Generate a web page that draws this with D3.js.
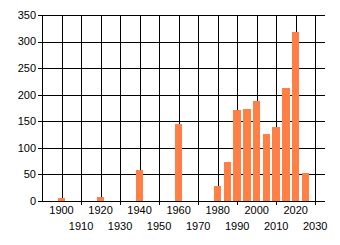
<!DOCTYPE html>
<html>
<head>
<meta charset="utf-8">
<script src="https://cdn.jsdelivr.net/npm/d3@7"></script>
<style>
  body { margin: 0; background: #fff; }
  text { font-family: "Liberation Sans", Arial, sans-serif; font-size: 11px; fill: #000; }
</style>
</head>
<body>
<div id="chart"></div>
<script>
// data
const years = [1900, 1920, 1940, 1960, 1980, 1985, 1990, 1995, 2000, 2005, 2010, 2015, 2020, 2025];
const counts = [5, 7, 58, 144, 28, 73, 171, 173, 188, 126, 139, 212, 318, 53];
const yTicks = [0, 50, 100, 150, 200, 250, 300, 350];
const xTicks = [1900, 1910, 1920, 1930, 1940, 1950, 1960, 1970, 1980, 1990, 2000, 2010, 2020, 2030];

const width = 340, height = 245;
const plotLeft = 42, plotRight = 325, plotTop = 15, plotBottom = 201;

const svg = d3.select('#chart')
  .append('svg')
  .attr('width', width)
  .attr('height', height);

const x = d3.scaleLinear().domain([1890, 2035]).range([plotLeft, plotRight]);
const y = d3.scaleLinear().domain([0, 350]).range([plotBottom, plotTop]);

const grid = svg.append('g').attr('shape-rendering', 'crispEdges');

// horizontal grid
grid.selectAll('.hline')
  .data(yTicks)
  .join('line')
  .attr('x1', plotLeft - 4)
  .attr('x2', plotRight)
  .attr('y1', d => Math.round(y(d)) + 0.5)
  .attr('y2', d => Math.round(y(d)) + 0.5)
  .attr('stroke', '#000');

// vertical grid, odd decades get a tick below the axis
grid.selectAll('.vline')
  .data(xTicks)
  .join('line')
  .attr('x1', d => Math.round(x(d)) + 0.5)
  .attr('x2', d => Math.round(x(d)) + 0.5)
  .attr('y1', plotTop)
  .attr('y2', (d, i) => i % 2 ? plotBottom + 4 : plotBottom)
  .attr('stroke', '#000');

// left axis line
grid.append('line')
  .attr('x1', plotLeft + 0.5).attr('x2', plotLeft + 0.5)
  .attr('y1', plotTop).attr('y2', plotBottom + 1)
  .attr('stroke', '#000');

// bars
const bw = x(1901.9) - x(1898.1);
svg.append('g')
  .attr('shape-rendering', 'crispEdges')
  .selectAll('rect')
  .data(years)
  .join('rect')
  .attr('x', d => x(d) - bw / 2)
  .attr('width', bw)
  .attr('y', (d, i) => y(counts[i]))
  .attr('height', (d, i) => y(0) - y(counts[i]))
  .attr('fill', '#ff7f45');

// redraw baseline over the bars
svg.append('line')
  .attr('shape-rendering', 'crispEdges')
  .attr('x1', plotLeft).attr('x2', plotRight)
  .attr('y1', Math.round(y(0)) + 0.5).attr('y2', Math.round(y(0)) + 0.5)
  .attr('stroke', '#000');

// y labels
svg.append('g')
  .selectAll('text')
  .data(yTicks)
  .join('text')
  .attr('x', 36)
  .attr('y', d => y(d))
  .attr('dy', '0.35em')
  .attr('text-anchor', 'end')
  .text(d => d);

// x labels, staggered over two rows
svg.append('g')
  .selectAll('text')
  .data(xTicks)
  .join('text')
  .attr('x', d => x(d))
  .attr('y', (d, i) => i % 2 ? 226 : 210)
  .attr('dy', '0.35em')
  .attr('text-anchor', 'middle')
  .text(d => d);
</script>
</body>
</html>
